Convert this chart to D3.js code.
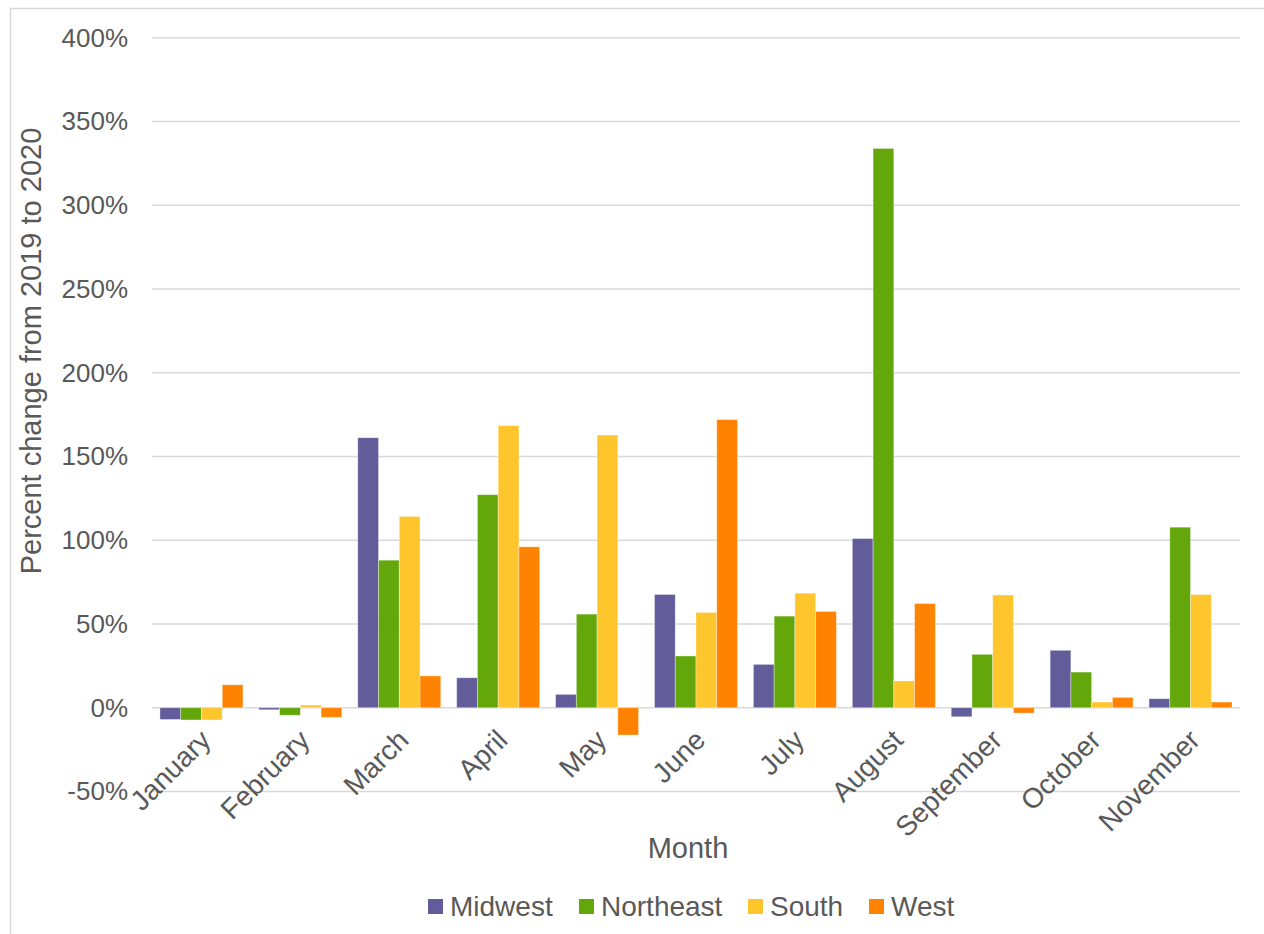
<!DOCTYPE html>
<html>
<head>
<meta charset="utf-8">
<script src="https://cdn.jsdelivr.net/npm/d3@7"></script>
<style>
  html, body { margin: 0; padding: 0; background: #fff; }
  svg { display: block; font-family: "Liberation Sans", Arial, sans-serif; }
</style>
</head>
<body>
<svg id="chart" width="1264" height="934"></svg>
<script>
// Month categories and region series (percent change, 2019 -> 2020)
const months = ["January", "February", "March", "April", "May", "June",
                "July", "August", "September", "October", "November"];
const regions = ["Midwest", "Northeast", "South", "West"];
const midwest   = [-7.0, -1.2, 161.2, 17.9, 8.0, 67.6, 25.9, 101.0, -5.4, 34.3, 5.4];
const northeast = [-7.3, -4.5, 88.1, 127.2, 55.9, 30.9, 54.7, 333.9, 31.9, 21.3, 107.8];
const south     = [-7.3, 1.6, 114.2, 168.4, 162.8, 56.9, 68.4, 16.0, 67.3, 3.4, 67.6];
const west      = [13.7, -5.7, 19.0, 96.1, -16.3, 172.0, 57.5, 62.2, -3.2, 6.2, 3.4];
const yTicks = [-50, 0, 50, 100, 150, 200, 250, 300, 350, 400];

const seriesValues = { Midwest: midwest, Northeast: northeast, South: south, West: west };
const colors = { Midwest: "#625d9a", Northeast: "#63a70b", South: "#ffc52c", West: "#ff8300" };

const svg = d3.select("#chart");
const textColor = "#595959";
const fontFamily = "'Liberation Sans', Arial, sans-serif";

// chart frame
svg.append("rect")
  .attr("x", 10.5).attr("y", 8.5)
  .attr("width", 1400).attr("height", 1100)
  .attr("fill", "none").attr("stroke", "#d9d9d9").attr("stroke-width", 1.5);

const plot = { left: 152, right: 1240, top: 37.7, bottom: 791.5 };

const x0 = d3.scaleBand().domain(months).range([plot.left, plot.right]).padding(0);
const x1 = d3.scaleBand().domain(regions).range([0, x0.bandwidth()])
  .paddingInner(0).paddingOuter(0.383);
const y = d3.scaleLinear().domain([-50, 400]).range([plot.bottom, plot.top]);

// horizontal gridlines
svg.append("g")
  .selectAll("line")
  .data(yTicks)
  .join("line")
  .attr("x1", plot.left).attr("x2", plot.right)
  .attr("y1", d => y(d)).attr("y2", d => y(d))
  .attr("stroke", "#d9d9d9").attr("stroke-width", 1.5);

// y tick labels
const yAxis = d3.axisLeft(y).tickValues(yTicks).tickSize(0).tickPadding(0)
  .tickFormat(d => d + "%");
const yg = svg.append("g").attr("transform", `translate(128,0)`).call(yAxis);
yg.select(".domain").remove();
yg.selectAll("text")
  .attr("fill", textColor).attr("font-size", 26)
  .attr("font-family", fontFamily);

// bars
const rows = months.map((m, i) => ({ month: m, values: regions.map(r => ({ region: r, value: seriesValues[r][i] })) }));
svg.append("g")
  .selectAll("g")
  .data(rows)
  .join("g")
  .attr("transform", d => `translate(${x0(d.month)},0)`)
  .selectAll("rect")
  .data(d => d.values)
  .join("rect")
  .attr("x", d => x1(d.region))
  .attr("width", x1.bandwidth())
  .attr("y", d => y(Math.max(0, d.value)))
  .attr("height", d => Math.abs(y(d.value) - y(0)))
  .attr("fill", d => colors[d.region])
  .attr("stroke", "rgba(255,255,255,0.45)")
  .attr("stroke-width", 0.8);

// x tick labels, rotated
const xAxis = d3.axisBottom(x0).tickSize(0).tickPadding(0);
const xg = svg.append("g").attr("transform", `translate(0,${y(0)})`).call(xAxis);
xg.select(".domain").remove();
xg.selectAll("text")
  .attr("fill", textColor).attr("font-size", 28)
  .attr("font-family", fontFamily)
  .attr("text-anchor", "end")
  .attr("dy", null)
  .attr("transform", "translate(11,34) rotate(-45)");

// axis titles
svg.append("text")
  .attr("transform", "translate(41,351) rotate(-90)")
  .attr("text-anchor", "middle")
  .attr("fill", textColor).attr("font-size", 29)
  .text("Percent change from 2019 to 2020");

svg.append("text")
  .attr("x", 688).attr("y", 858)
  .attr("text-anchor", "middle")
  .attr("fill", textColor).attr("font-size", 29)
  .text("Month");

// legend
const legendX = [428, 579, 748, 869];
const lg = svg.append("g")
  .selectAll("g")
  .data(regions)
  .join("g")
  .attr("transform", (d, i) => `translate(${legendX[i]},0)`);
lg.append("rect")
  .attr("x", 0).attr("y", 899).attr("width", 15).attr("height", 15)
  .attr("fill", d => colors[d]);
lg.append("text")
  .attr("x", 22).attr("y", 916)
  .attr("fill", textColor).attr("font-size", 28)
  .text(d => d);
</script>
</body>
</html>
